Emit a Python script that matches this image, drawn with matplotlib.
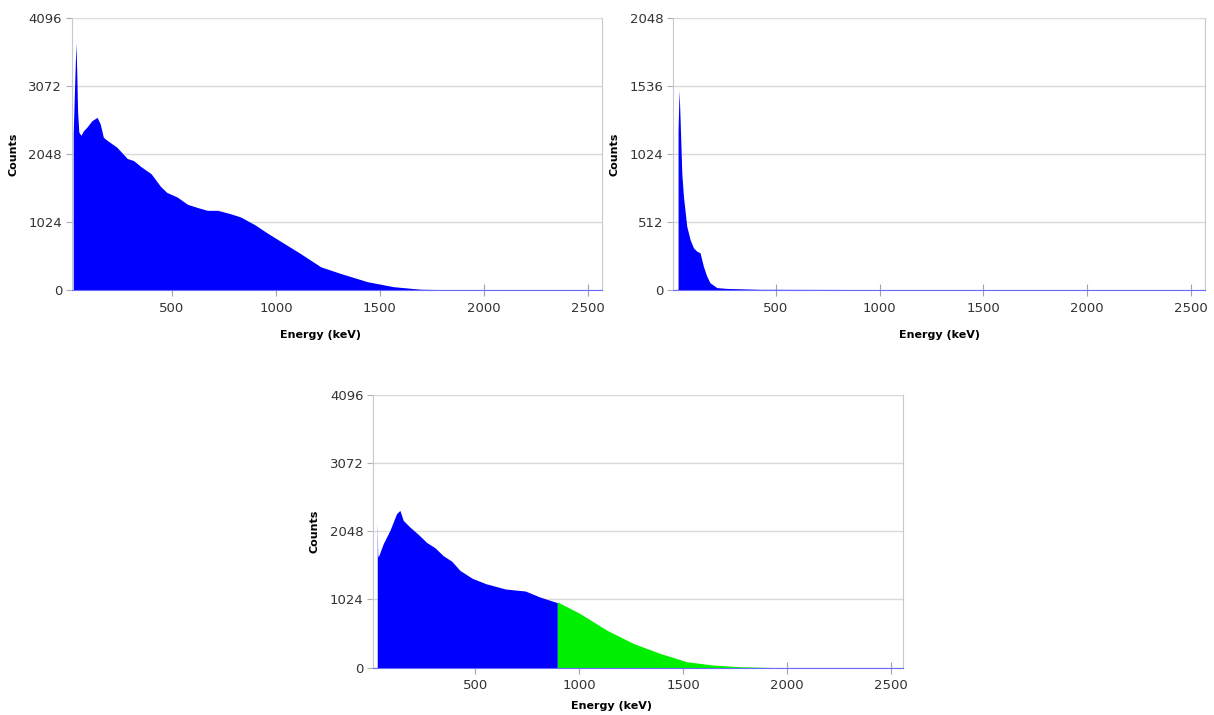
import numpy as np
import matplotlib.pyplot as plt

# Spectrum 1 (top left)
energy1 = [25, 32, 38, 42, 46, 52, 62, 75, 90, 115, 140, 155, 170, 190, 235, 285, 315,
           350, 400, 445, 475, 525, 575, 625, 670, 720, 780, 830, 900, 960, 1040,
           1115, 1215, 1310, 1440, 1565, 1695, 1840, 2000, 2560]
counts1 = [2350, 3100, 3720, 3300, 2700, 2380, 2330, 2400, 2450, 2550, 2600, 2500, 2300,
           2250, 2150, 1980, 1950, 1860, 1750, 1560, 1470, 1400, 1290, 1240, 1200, 1200,
           1150, 1100, 980, 855, 700, 555, 350, 250, 125, 50, 12, 3, 0, 0]

# Spectrum 2 (top right)
energy2 = [28, 33, 38, 46, 54, 70, 86, 102, 118, 134, 150, 166, 182, 215, 263, 423,
           800, 1000, 1500, 2560]
counts2 = [1200, 1505, 1280, 880, 705, 480, 380, 318, 293, 280, 180, 105, 55, 18, 12, 5,
           4, 3, 0, 0]

# Spectrum 3 (bottom): blue part below the cut, green part above it
energy3_low = [27, 29, 32, 56, 88, 120, 136, 152, 184, 225, 265, 305, 345, 385, 425,
               485, 550, 645, 740, 810, 894]
counts3_low = [2200, 1700, 1662, 1863, 2062, 2313, 2362, 2212, 2112, 2000, 1880, 1800,
               1680, 1600, 1460, 1340, 1260, 1180, 1150, 1060, 975]
energy3_high = [894, 1003, 1132, 1260, 1389, 1517, 1645, 1774, 1934, 2560]
counts3_high = [987, 812, 562, 362, 212, 87, 37, 12, 0, 0]

x_ticks = [500, 1000, 1500, 2000, 2500]


def StyleAxes(ax, ymax, xlim, xlabel_x, xlabel_pad):
    ax.set_xlim(xlim)
    ax.set_ylim(0, ymax)
    ax.set_yticks(np.arange(0, ymax + 1, ymax // 4))
    ax.set_xticks(x_ticks)
    ax.yaxis.grid(True, color='#dadada', lw=1)
    ax.set_axisbelow(True)
    ax.spines['top'].set_visible(False)
    ax.spines['left'].set_color('#c8c8d4')
    ax.spines['right'].set_color('#c8c8d4')
    ax.spines['bottom'].set_color('#6a6aff')
    ax.tick_params(axis='y', length=4, color='#b0b0b0', labelsize=9.5,
                   labelcolor='#333333', pad=3)
    ax.tick_params(axis='x', direction='inout', length=9, color='#a0a0b0',
                   labelsize=9.5, labelcolor='#333333', pad=4)
    ax.set_xlabel('Energy (keV)', fontsize=8, fontweight='bold', labelpad=xlabel_pad)
    ax.set_ylabel('Counts', fontsize=8, fontweight='bold', labelpad=7)
    # label is not centred under every panel in the original
    ax.xaxis.label.set_x(xlabel_x)


fig = plt.figure(figsize=(12.14, 7.15), dpi=100)

ax1 = fig.add_axes([0.0591, 0.5944, 0.4366, 0.3804])
ax1.fill_between(energy1, counts1, color='#0000ff', lw=0)
StyleAxes(ax1, 4096, (18, 2567), 0.47, 11)

ax2 = fig.add_axes([0.5546, 0.5944, 0.4380, 0.3804])
ax2.fill_between(energy2, counts2, color='#0000ff', lw=0)
StyleAxes(ax2, 2048, (5, 2569), 0.5, 11)

ax3 = fig.add_axes([0.3075, 0.0664, 0.4366, 0.3811])
ax3.fill_between(energy3_low, counts3_low, color='#0000ff', lw=0)
ax3.fill_between(energy3_high, counts3_high, color='#00ee00', lw=0)
StyleAxes(ax3, 4096, (8, 2560), 0.45, 6)

fig.savefig('out.png', dpi=100)
